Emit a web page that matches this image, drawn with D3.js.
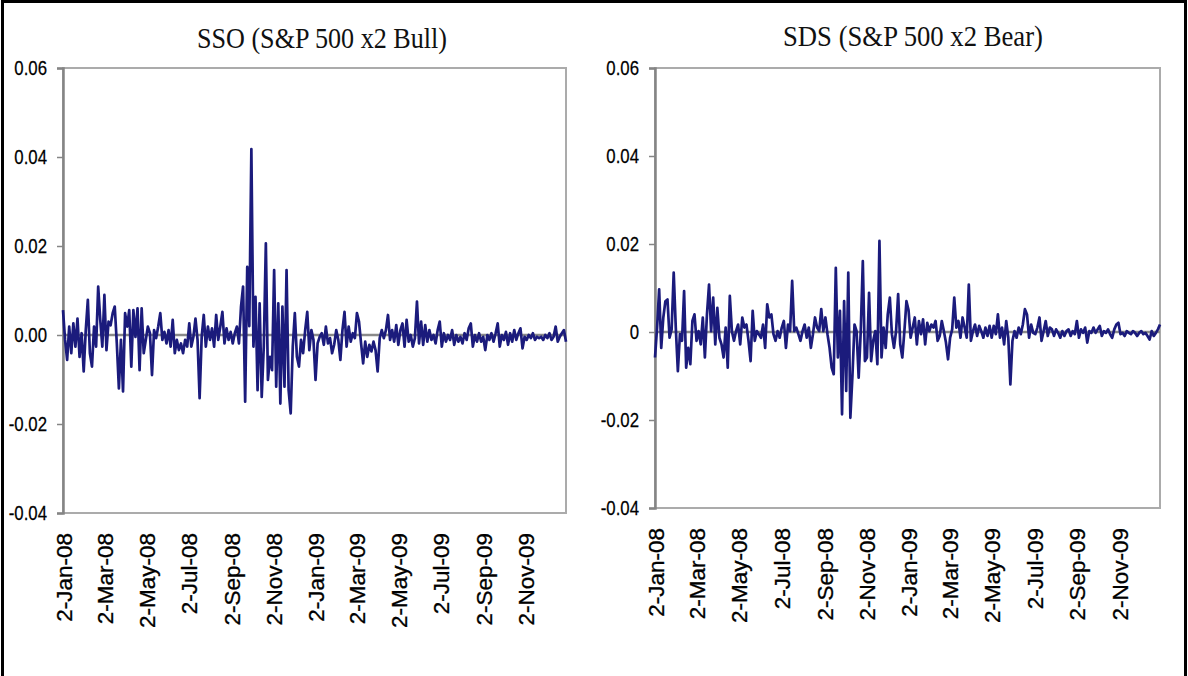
<!DOCTYPE html>
<html><head><meta charset="utf-8">
<script src="https://cdn.jsdelivr.net/npm/d3@7"></script>
<style>body{margin:0;background:#fff}svg{display:block}</style>
</head><body>
<svg id="chart" width="1188" height="676"></svg>
<script>
// ---- data ----
const startDate = "2008-01-02";
const stepDays = 3;
const tickDates = ["2008-01-02","2008-03-02","2008-05-02","2008-07-02","2008-09-02","2008-11-02",
                   "2009-01-02","2009-03-02","2009-05-02","2009-07-02","2009-09-02","2009-11-02"];
const yTicks = [0.06, 0.04, 0.02, 0, -0.02, -0.04];
const ssoTickLabels = ["0.06","0.04","0.02","0.00","-0.02","-0.04"];
const sdsTickLabels = ["0.06","0.04","0.02","0","-0.02","-0.04"];
const titles = ["SSO (S&P 500 x2 Bull)", "SDS (S&P 500 x2 Bear)"];

const ssoValues = [
0.0056,-0.0011,-0.0056,0.0019,-0.0041,0.0026,-0.0026,0.0037,-0.0049,0.0004,
-0.0082,0.0011,0.0079,-0.0041,-0.0071,0.0019,-0.0026,0.0109,0.0034,-0.0026,
0.0090,-0.0034,0.0030,0.0022,0.0049,0.0064,-0.0019,-0.0120,-0.0011,-0.0127,
0.0049,0.0019,0.0056,-0.0071,0.0056,-0.0004,0.0060,-0.0079,0.0060,-0.0041,
-0.0011,0.0019,0.0004,-0.0090,0.0011,-0.0007,0.0019,0.0049,-0.0011,0.0007,
-0.0019,0.0011,-0.0026,0.0034,-0.0041,-0.0011,-0.0034,-0.0019,-0.0041,-0.0011,
-0.0026,0.0026,-0.0026,-0.0004,0.0037,-0.0011,-0.0142,-0.0004,0.0045,-0.0026,
0.0019,-0.0011,0.0015,-0.0026,0.0045,-0.0011,0.0019,0.0052,-0.0019,0.0015,
-0.0011,0.0007,-0.0019,0.0004,0.0019,-0.0019,0.0064,0.0109,-0.0150,0.0153,
0.0020,0.0418,-0.0026,0.0086,-0.0124,0.0071,-0.0139,-0.0026,0.0206,-0.0101,
-0.0049,-0.0079,0.0146,-0.0116,0.0071,-0.0154,0.0064,-0.0116,0.0146,-0.0124,
-0.0176,-0.0026,0.0049,-0.0049,-0.0071,-0.0011,-0.0041,0.0011,0.0052,-0.0034,
0.0011,-0.0011,-0.0101,-0.0019,-0.0004,0.0004,-0.0022,0.0019,-0.0019,-0.0007,
-0.0041,-0.0022,0.0011,-0.0011,-0.0056,0.0011,0.0052,-0.0026,0.0019,-0.0015,
0.0004,-0.0007,0.0049,0.0030,-0.0019,-0.0064,-0.0015,-0.0049,-0.0022,-0.0037,
-0.0015,-0.0034,-0.0082,-0.0007,0.0011,-0.0007,0.0011,0.0045,-0.0011,0.0011,
-0.0015,0.0022,-0.0022,0.0011,0.0026,-0.0026,0.0034,-0.0015,0.0000,-0.0026,
-0.0007,0.0075,-0.0019,0.0030,-0.0022,0.0022,-0.0015,0.0011,-0.0011,0.0000,
-0.0019,0.0011,0.0030,-0.0026,0.0004,-0.0015,0.0000,-0.0011,0.0011,-0.0022,
0.0000,-0.0015,-0.0004,-0.0019,0.0004,-0.0011,0.0015,0.0026,-0.0026,0.0000,
-0.0015,0.0004,-0.0015,-0.0004,-0.0034,0.0000,-0.0011,0.0004,-0.0015,0.0004,
0.0026,-0.0026,0.0000,-0.0011,0.0007,-0.0022,0.0004,-0.0015,0.0011,-0.0011,
0.0004,0.0015,-0.0030,-0.0004,-0.0011,0.0000,-0.0007,0.0004,-0.0011,-0.0004,
-0.0007,-0.0004,-0.0011,0.0000,-0.0007,0.0004,-0.0011,-0.0004,0.0019,-0.0015,
-0.0004,0.0004,0.0011,-0.0015
];

const sdsValues = [
-0.0058,0.0010,0.0097,-0.0036,0.0033,0.0070,0.0074,-0.0013,0.0006,0.0135,
0.0010,-0.0089,-0.0005,-0.0020,0.0093,-0.0081,-0.0036,-0.0073,0.0025,0.0040,
-0.0020,0.0002,-0.0028,0.0033,-0.0058,0.0040,0.0108,0.0002,0.0078,-0.0028,
0.0055,-0.0013,-0.0028,-0.0058,0.0010,-0.0081,0.0082,0.0002,-0.0020,0.0002,
0.0017,-0.0028,0.0033,0.0010,0.0017,-0.0020,-0.0066,0.0048,-0.0020,0.0002,
-0.0005,-0.0013,0.0017,-0.0036,0.0063,0.0033,0.0040,-0.0005,-0.0020,0.0002,
-0.0013,0.0010,0.0025,-0.0036,0.0017,0.0002,0.0116,0.0002,0.0010,-0.0005,
-0.0020,0.0002,0.0017,-0.0013,0.0010,-0.0036,-0.0005,0.0033,0.0010,0.0002,
0.0052,0.0002,0.0033,-0.0005,-0.0036,-0.0081,-0.0096,0.0146,-0.0058,0.0048,
-0.0187,0.0070,-0.0134,0.0135,-0.0195,-0.0100,0.0017,0.0002,-0.0104,0.0002,
0.0161,-0.0066,-0.0058,0.0089,-0.0066,-0.0020,0.0002,-0.0073,0.0207,-0.0058,
0.0010,-0.0036,0.0040,0.0078,-0.0005,-0.0036,0.0002,0.0086,-0.0028,-0.0058,
0.0002,0.0070,0.0050,-0.0013,0.0010,0.0033,-0.0028,0.0025,-0.0005,0.0029,
-0.0028,0.0021,0.0002,0.0017,0.0010,0.0025,-0.0020,-0.0009,0.0025,0.0002,
-0.0024,-0.0062,-0.0013,0.0006,0.0078,0.0010,0.0025,-0.0013,0.0033,0.0010,
-0.0013,0.0108,-0.0020,0.0002,0.0017,-0.0009,0.0014,0.0002,-0.0013,0.0010,
-0.0009,0.0014,-0.0013,0.0014,-0.0005,0.0040,-0.0013,0.0010,-0.0028,0.0025,
-0.0013,-0.0119,-0.0020,0.0002,-0.0013,0.0010,-0.0005,0.0017,0.0052,0.0040,
-0.0013,0.0017,-0.0002,-0.0005,0.0010,0.0033,-0.0020,0.0002,0.0025,-0.0009,
0.0010,0.0006,-0.0009,0.0006,-0.0002,-0.0013,0.0002,-0.0009,0.0002,0.0006,
-0.0009,0.0002,-0.0005,0.0025,-0.0013,0.0006,-0.0002,0.0010,-0.0024,0.0002,
-0.0002,0.0010,-0.0002,0.0006,0.0014,-0.0009,0.0002,-0.0002,0.0006,-0.0005,
-0.0013,0.0006,0.0017,0.0021,-0.0005,-0.0002,-0.0009,0.0002,-0.0002,-0.0005,
0.0002,-0.0002,-0.0009,-0.0002,0.0002,-0.0005,-0.0002,-0.0009,-0.0017,0.0002,
-0.0009,-0.0002,0.0006,0.0017
];

// ---- drawing ----
const parse = d3.timeParse("%Y-%m-%d");
const t0 = parse(startDate);
const endDate = parse("2009-12-31");
const fmt = d3.timeFormat("%-d-%b-%y");
const svg = d3.select("#chart");

svg.append("rect").attr("x", 2.5).attr("y", 1.5).attr("width", 1183).attr("height", 700)
  .attr("fill", "none").attr("stroke", "#000").attr("stroke-width", 3);

const panels = [
  {title: titles[0], values: ssoValues, labels: ssoTickLabels, left: 63, right: 566, top: 68, bottom: 513, tx: 322, tw: 250, ty: 48},
  {title: titles[1], values: sdsValues, labels: sdsTickLabels, left: 655, right: 1160, top: 68, bottom: 508, tx: 913, tw: 260, ty: 46}
];

panels.forEach(p => {
  const g = svg.append("g");
  const x = d3.scaleTime().domain([t0, endDate]).range([p.left, p.right]);
  const y = d3.scaleLinear().domain([-0.04, 0.06]).range([p.bottom, p.top]);

  // plot frame
  g.append("rect").attr("x", p.left).attr("y", p.top)
    .attr("width", p.right - p.left).attr("height", p.bottom - p.top)
    .attr("fill", "none").attr("stroke", "#ababab").attr("stroke-width", 2);

  // y axis
  const ya = g.append("g").attr("transform", `translate(${p.left},0)`)
    .call(d3.axisLeft(y).tickValues(yTicks).tickSize(6).tickPadding(10)
      .tickFormat((d, i) => p.labels[i]));
  ya.select(".domain").attr("stroke", "#858585").attr("stroke-width", 2.5);
  ya.selectAll(".tick line").attr("stroke", "#858585").attr("stroke-width", 1.5);
  ya.selectAll(".tick text")
    .attr("font-family", "'Liberation Sans', Arial, sans-serif")
    .attr("font-size", 21).attr("fill", "#000")
    .attr("stroke", "#000").attr("stroke-width", 0.25);
  ya.selectAll(".tick text").each(function() {
    const t = d3.select(this);
    const xx = +t.attr("x");
    t.attr("x", null).attr("transform", `translate(${xx},0) scale(0.8,1)`);
  });

  // zero line (category axis crossing)
  g.append("line").attr("x1", p.left).attr("x2", p.right)
    .attr("y1", y(0)).attr("y2", y(0))
    .attr("stroke", "#8a8a8a").attr("stroke-width", 2.5);

  // x axis labels (low position)
  const xa = g.append("g").attr("transform", `translate(0,${p.bottom})`)
    .call(d3.axisBottom(x).tickValues(tickDates.map(parse)).tickSize(0).tickFormat(fmt));
  xa.select(".domain").remove();
  xa.selectAll(".tick text")
    .attr("font-family", "'Liberation Sans', Arial, sans-serif")
    .attr("font-size", 22.5).attr("fill", "#000")
    .attr("stroke", "#000").attr("stroke-width", 0.3)
    .attr("transform", "rotate(-90)")
    .attr("text-anchor", "end")
    .attr("x", -20).attr("y", 0).attr("dy", "0.36em");

  // series line
  const data = p.values.map((v, i) => ({date: d3.timeDay.offset(t0, i * stepDays), value: v}));
  g.append("path").datum(data)
    .attr("fill", "none").attr("stroke", "#1b1b7c").attr("stroke-width", 2.7)
    .attr("stroke-linejoin", "round")
    .attr("d", d3.line().x(d => x(d.date)).y(d => y(d.value)));

  // title
  g.append("text").attr("x", p.tx).attr("y", p.ty).attr("text-anchor", "middle")
    .attr("font-family", "'Liberation Serif', 'Times New Roman', serif")
    .attr("font-size", 29).attr("fill", "#111")
    .attr("textLength", p.tw).attr("lengthAdjust", "spacingAndGlyphs")
    .text(p.title);
});
</script>
</body></html>
